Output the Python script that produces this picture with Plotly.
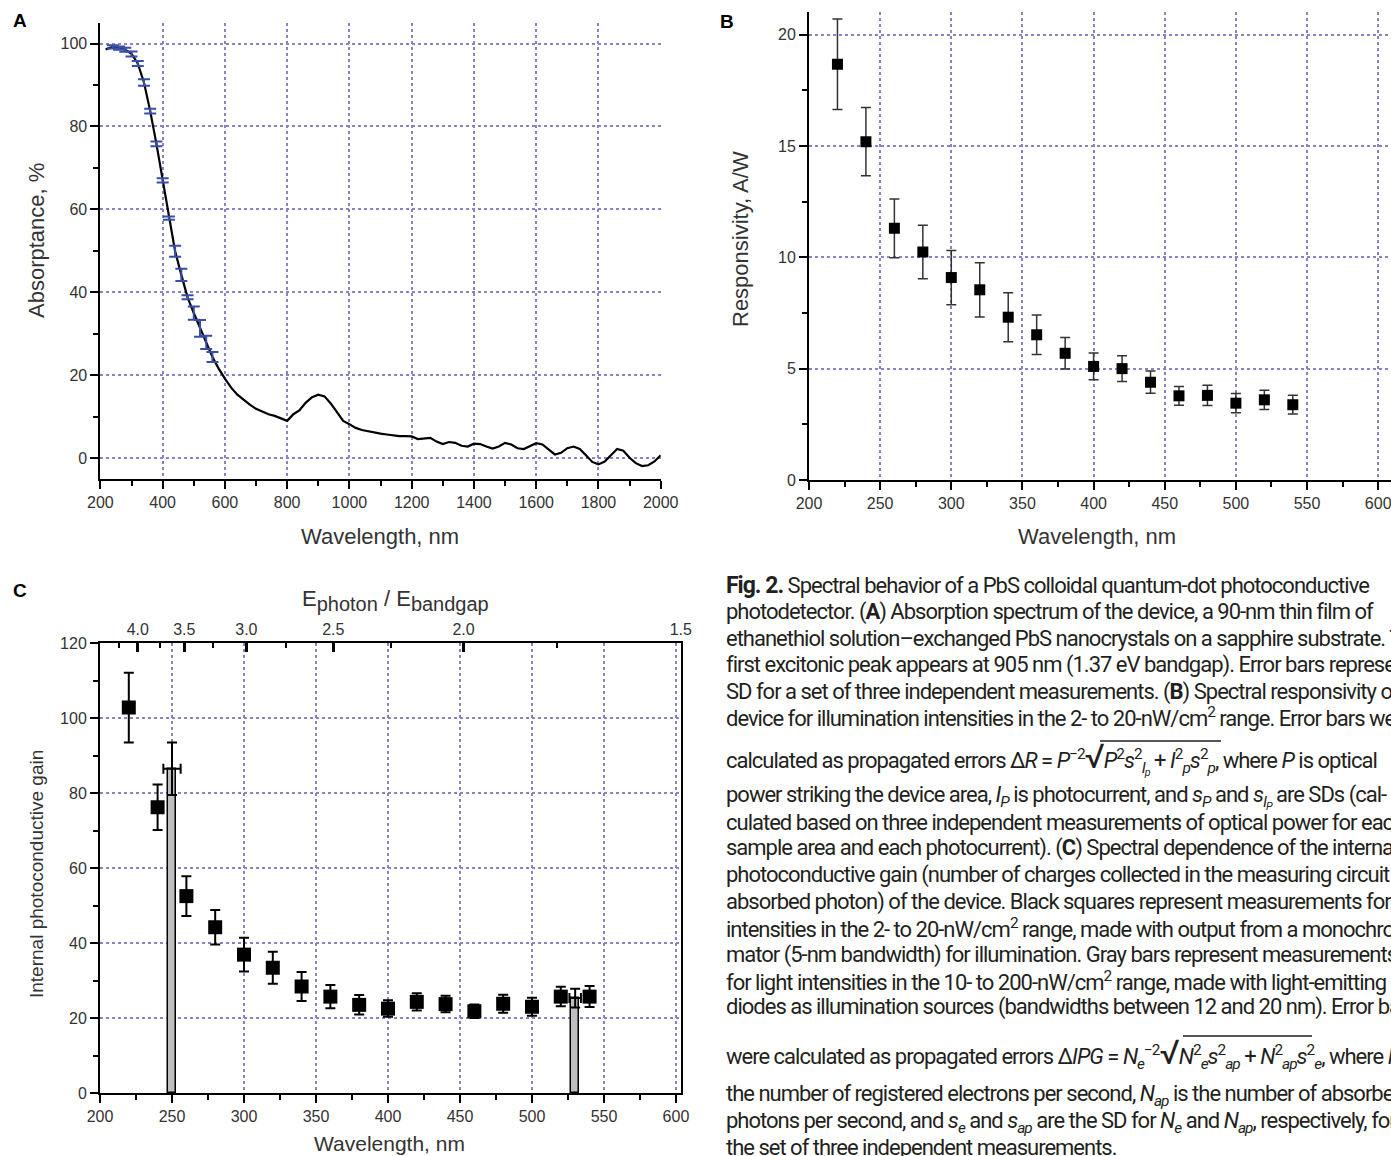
import plotly.graph_objects as go

W, H = 1391, 1156

# ---------------- Panel A: absorptance spectrum ----------------
a_wl = [217, 240, 260, 280, 300, 320, 340, 360, 380, 400, 420, 440, 460, 480, 500,
        520, 540, 560, 580, 600, 620, 640, 660, 680, 700, 720, 740, 760, 780, 800,
        820, 840, 860, 880, 900, 920, 940, 960, 980, 1000, 1020, 1040, 1060, 1080,
        1100, 1120, 1140, 1160, 1180, 1200, 1220, 1240, 1260, 1280, 1300, 1320,
        1340, 1360, 1380, 1400, 1420, 1440, 1460, 1480, 1500, 1520, 1540, 1560,
        1580, 1600, 1620, 1640, 1660, 1680, 1700, 1720, 1740, 1760, 1780, 1800,
        1820, 1840, 1860, 1880, 1900, 1920, 1940, 1960, 1980, 2000]
a_abs = [98.6, 99.2, 98.9, 98.5, 97.5, 95.2, 90.6, 83.7, 75.8, 67.0, 57.9, 49.9,
         44.2, 38.8, 35.0, 31.3, 27.9, 24.4, 21.6, 19.2, 17.0, 15.3, 14.0, 12.9,
         11.9, 11.3, 10.6, 10.2, 9.6, 9.0, 10.6, 11.6, 13.4, 14.7, 15.3, 14.9,
         13.2, 11.0, 9.0, 8.2, 7.3, 6.8, 6.5, 6.1, 5.9, 5.7, 5.5, 5.3, 5.3, 5.25,
         4.6, 4.7, 4.9, 4.0, 3.4, 3.9, 3.7, 3.0, 2.8, 3.5, 3.4, 2.8, 2.3, 2.8, 3.7,
         3.3, 2.4, 2.2, 3.0, 3.6, 3.3, 2.0, 0.9, 1.3, 2.4, 2.8, 2.2, 0.7, -0.9,
         -1.5, -0.8, 0.7, 2.2, 1.8, 0.1, -1.2, -1.9, -1.7, -0.8, 0.7]
a_err_wl = [240, 260, 280, 300, 320, 340, 360, 380, 400, 420, 440, 460, 480, 500,
            520, 540, 560]
a_err_val = [99.2, 98.9, 98.5, 97.5, 95.2, 90.6, 83.7, 75.8, 67.0, 57.9, 49.9, 44.2,
             38.8, 35.0, 31.3, 27.9, 24.4]
a_err = [0.4, 0.4, 0.5, 0.6, 0.6, 0.8, 0.6, 0.6, 0.5, 0.4, 1.3, 1.5, 0.5, 1.6, 2.0,
         1.6, 1.2]

# ---------------- Panel B: responsivity ----------------
b_wl = [220, 240, 260, 280, 300, 320, 340, 360, 380, 400, 420, 440, 460, 480, 500,
        520, 540]
b_resp = [18.67, 15.19, 11.30, 10.24, 9.09, 8.54, 7.31, 6.52, 5.69, 5.10, 5.00,
          4.39, 3.78, 3.80, 3.45, 3.60, 3.38]
b_err = [2.03, 1.53, 1.32, 1.20, 1.22, 1.22, 1.10, 0.89, 0.71, 0.60, 0.58, 0.50,
         0.42, 0.45, 0.43, 0.43, 0.42]

# ---------------- Panel C: internal photoconductive gain ----------------
c_wl = [220, 240, 260, 280, 300, 320, 340, 360, 380, 400, 420, 440, 460, 480, 500,
        520, 540]
c_gain = [102.8, 76.2, 52.5, 44.2, 36.9, 33.4, 28.4, 25.7, 23.5, 22.5, 24.3, 23.7,
          21.8, 23.8, 23.0, 25.7, 25.7]
c_err = [9.3, 6.1, 5.3, 4.6, 4.5, 4.3, 3.9, 3.1, 2.6, 2.2, 2.3, 2.2, 1.8, 2.4, 2.4,
         2.6, 2.8]
c_led_wl = [250, 530]
c_led_gain = [86.5, 25.3]
c_led_err = [7.0, 2.5]
c_led_xerr = [6.0, 4.0]
ratio_ticks = [4.0, 3.5, 3.0, 2.5, 2.0, 1.5]
ratio_labels = ["4.0", "3.5", "3.0", "2.5", "2.0", "1.5"]
ratio_minor = [4.25, 3.75, 3.25, 2.75, 2.25, 1.75]
BANDGAP_NM = 905.0

# ---------------- Caption ----------------
caption_lines = [
    "<span style='font-size:23px'><b>Fig. 2.</b></span> Spectral behavior of a PbS colloidal quantum-dot photoconductive",
    "photodetector. (<b>A</b>) Absorption spectrum of the device, a 90-nm thin film of",
    "ethanethiol solution–exchanged PbS nanocrystals on a sapphire substrate. The",
    "first excitonic peak appears at 905 nm (1.37 eV bandgap). Error bars represent",
    "SD for a set of three independent measurements. (<b>B</b>) Spectral responsivity of the",
    "device for illumination intensities in the 2- to 20-nW/cm<sup>2</sup> range. Error bars were",
    "calculated as propagated errors Δ<i>R</i> = <i>P</i><sup>−2</sup>"
    "<span style='font-size:34px'>√</span><i>P</i><sup>2</sup><i>s</i><sup>2</sup><sub><i>I<sub>p</sub></i></sub>"
    " + <i>I</i><sup>2</sup><sub><i>p</i></sub><i>s</i><sup>2</sup><sub><i>p</i></sub>, where <i>P</i> is optical",
    "power striking the device area, <i>I<sub>P</sub></i> is photocurrent, and <i>s<sub>P</sub></i> and "
    "<i>s<sub>I<sub>P</sub></sub></i> are SDs (cal-",
    "culated based on three independent measurements of optical power for each",
    "sample area and each photocurrent). (<b>C</b>) Spectral dependence of the internal",
    "photoconductive gain (number of charges collected in the measuring circuit per",
    "absorbed photon) of the device. Black squares represent measurements for light",
    "intensities in the 2- to 20-nW/cm<sup>2</sup> range, made with output from a monochro-",
    "mator (5-nm bandwidth) for illumination. Gray bars represent measurements",
    "for light intensities in the 10- to 200-nW/cm<sup>2</sup> range, made with light-emitting",
    "diodes as illumination sources (bandwidths between 12 and 20 nm). Error bars",
    "were calculated as propagated errors Δ<i>IPG</i> = <i>N<sub>e</sub></i><sup>−2</sup>"
    "<span style='font-size:34px'>√</span><i>N</i><sup>2</sup><sub><i>e</i></sub><i>s</i><sup>2</sup><sub><i>ap</i></sub>"
    " + <i>N</i><sup>2</sup><sub><i>ap</i></sub><i>s</i><sup>2</sup><sub><i>e</i></sub>, where <i>N<sub>e</sub></i> is",
    "the number of registered electrons per second, <i>N<sub>ap</sub></i> is the number of absorbed",
    "photons per second, and <i>s<sub>e</sub></i> and <i>s<sub>ap</sub></i> are the SD for "
    "<i>N<sub>e</sub></i> and <i>N<sub>ap</sub></i>, respectively, for",
    "the set of three independent measurements.",
]
caption_y_px = [585, 612, 638, 665, 692, 717, 757, 797, 822, 848, 875, 902, 928, 955,
                981, 1007, 1052, 1095, 1122, 1147]
# overbars of the two square-root signs: (x0, x1, y) in pixels
radical_bars_px = [(1100, 1221, 741), (1183, 1312, 1036)]


def px(x):
    return x / W


def py(y):
    return 1 - y / H


AX_FONT = "Liberation Sans, Arial, Helvetica, sans-serif"
CAP_FONT = "Roboto, sans-serif"
GRID = "#8b82c6"

fig = go.Figure()

# Panel A traces
fig.add_trace(go.Scatter(x=a_wl, y=a_abs, mode="lines", line=dict(color="black", width=2.2),
                         xaxis="x", yaxis="y", showlegend=False))
fig.add_trace(go.Scatter(x=a_err_wl, y=a_err_val, mode="markers",
                         marker=dict(size=1, color="rgba(0,0,0,0)"),
                         error_y=dict(type="data", array=a_err, color="#3b4ea6", thickness=2, width=6),
                         xaxis="x", yaxis="y", showlegend=False))

# Panel B traces
fig.add_trace(go.Scatter(x=b_wl, y=b_resp, mode="markers",
                         marker=dict(symbol="square", size=11, color="black"),
                         error_y=dict(type="data", array=b_err, color="#333333", thickness=1.5, width=5),
                         xaxis="x2", yaxis="y2", showlegend=False))

# Panel C traces
fig.add_trace(go.Bar(x=c_led_wl, y=c_led_gain, width=[6, 6],
                     marker=dict(color="#bfbfbf", line=dict(color="black", width=1.5)),
                     error_y=dict(type="data", array=c_led_err, color="black", thickness=2, width=5),
                     error_x=dict(type="data", array=c_led_xerr, color="black", thickness=2, width=5),
                     xaxis="x3", yaxis="y3", showlegend=False))
fig.add_trace(go.Scatter(x=c_wl, y=c_gain, mode="markers",
                         marker=dict(symbol="square", size=14, color="black"),
                         error_y=dict(type="data", array=c_err, color="black", thickness=2, width=5),
                         xaxis="x3", yaxis="y3", showlegend=False))
fig.add_trace(go.Scatter(x=[BANDGAP_NM / r for r in ratio_ticks], y=[60] * len(ratio_ticks),
                         mode="markers", marker=dict(opacity=0), hoverinfo="skip",
                         xaxis="x4", yaxis="y3", showlegend=False))


def axis(domain, rng, dtick, minor_dtick, grid=True, **kw):
    d = dict(domain=domain, range=rng, dtick=dtick, tick0=0, showline=True, linecolor="black",
             linewidth=2, ticks="outside", ticklen=8, tickwidth=2, tickcolor="black",
             minor=dict(dtick=minor_dtick, tick0=0, ticks="outside", ticklen=5, tickwidth=2,
                        tickcolor="black", showgrid=False),
             showgrid=grid, gridcolor=GRID, griddash="dot", gridwidth=1.5, zeroline=False,
             automargin=False, ticklabeloverflow="allow",
             tickfont=dict(family=AX_FONT, size=16, color="#333333"), fixedrange=True)
    d.update(kw)
    return d


fig.update_layout(
    template="none",
    width=W, height=H, margin=dict(l=0, r=0, t=0, b=0, pad=0), autosize=False,
    paper_bgcolor="white", plot_bgcolor="white",
    bargap=0, showlegend=False,
    xaxis=axis([px(100.4), px(660.7)], [200, 2000], 200, 100, anchor="y"),
    yaxis=axis([py(478.9), py(22.8)], [-5, 105], 20, 10, anchor="x"),
    xaxis2=axis([px(809), 1.0], [200, 609], 50, 25, anchor="y2"),
    yaxis2=axis([py(480), py(12.3)], [0, 21], 5, 2.5, anchor="x2"),
    xaxis3=axis([px(100), px(681)], [200, 603.5], 50, 25, anchor="y3"),
    yaxis3=axis([py(1093), py(643)], [0, 120], 20, 10, anchor="x3", mirror=True),
    xaxis4=dict(overlaying="x3", anchor="y3", side="top", range=[200, 603.5],
                tickmode="array", tickvals=[BANDGAP_NM / r for r in ratio_ticks],
                ticktext=ratio_labels, ticks="inside", ticklen=9, tickwidth=2.5,
                tickcolor="black", showline=True, linecolor="black", linewidth=2,
                showgrid=False, zeroline=False, fixedrange=True, automargin=False,
                ticklabeloverflow="allow",
                minor=dict(tickmode="array", tickvals=[BANDGAP_NM / r for r in ratio_minor],
                           ticks="inside", ticklen=5, tickwidth=2, tickcolor="black"),
                tickfont=dict(family=AX_FONT, size=16, color="#333333")),
)

ann = []


def text(x, y, s, size, angle=0, bold=False, color="#333333", family=AX_FONT, xanchor="center"):
    ann.append(dict(x=px(x), y=py(y), xref="paper", yref="paper", text=(f"<b>{s}</b>" if bold else s),
                    showarrow=False, textangle=angle, xanchor=xanchor, yanchor="middle",
                    font=dict(family=family, size=size, color=color)))


# panel letters
text(20, 20, "A", 19, bold=True, color="black")
text(727, 22, "B", 19, bold=True, color="black")
text(20, 590, "C", 19, bold=True, color="black")
# axis titles
text(380, 536, "Wavelength, nm", 22)
text(36, 241, "Absorptance, %", 22, angle=-90)
text(1097, 536, "Wavelength, nm", 22)
text(740, 239, "Responsivity, A/W", 22, angle=-90)
text(390, 1143, "Wavelength, nm", 21)
text(36, 874, "Internal photoconductive gain", 19, angle=-90)
text(395, 600, "E<sub><span style='font-size:20px'>photon</span></sub> / "
               "E<sub><span style='font-size:20px'>bandgap</span></sub>", 22)

for line, yy in zip(caption_lines, caption_y_px):
    text(724, yy, f"<span style='letter-spacing:-1px'>{line}</span>", 22,
         color="#231f20", family=CAP_FONT, xanchor="left")

fig.update_layout(annotations=ann)

fig.update_layout(shapes=[
    dict(type="line", xref="paper", yref="paper", x0=px(x0), x1=px(x1), y0=py(yb), y1=py(yb),
         line=dict(color="#231f20", width=1.5))
    for x0, x1, yb in radical_bars_px
])

fig.write_html("out.html", config={"displayModeBar": False},
               post_script="document.body.style.margin='0px';document.body.style.overflow='hidden';")
